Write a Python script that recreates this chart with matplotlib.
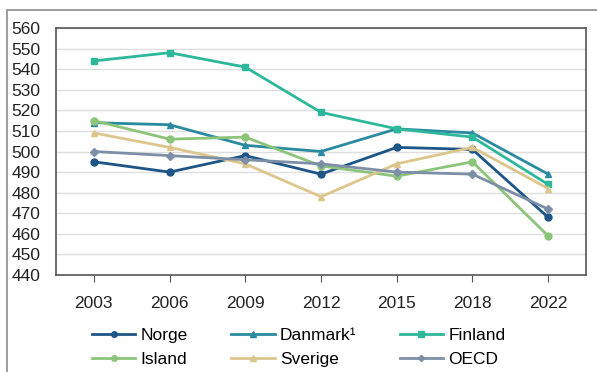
import numpy as np
import matplotlib
matplotlib.use('Agg')
import matplotlib.pyplot as plt
from matplotlib.patches import Rectangle

years = ['2003', '2006', '2009', '2012', '2015', '2018', '2022']
norge = [495, 490, 498, 489, 502, 501, 468]
danmark = [514, 513, 503, 500, 511, 509, 489]
finland = [544, 548, 541, 519, 511, 507, 484]
island = [515, 506, 507, 493, 488, 495, 459]
sverige = [509, 502, 494, 478, 494, 502, 482]
oecd = [500, 498, 496, 494, 490, 489, 472]

plt.rcParams['font.family'] = ['Liberation Sans', 'DejaVu Sans']

fig = plt.figure(figsize=(5.97, 3.72), dpi=100)
ax = fig.add_axes([56/597, 1-275/372, (586-56)/597, (275-28)/372])

# outer frame
fig.patches.append(Rectangle((7/597, -0.1), 1.0, 1-10/372+0.1, transform=fig.transFigure,
                             fill=False, edgecolor='#8c8c8c', linewidth=1.2))

x = np.arange(len(years))
series = [
    ('Norge', norge, '#1d5587', 'o'),
    ('Danmark\u00b9', danmark, '#2a8aa0', '^'),
    ('Finland', finland, '#2db79b', 's'),
    ('Island', island, '#8cc47a', 'o'),
    ('Sverige', sverige, '#dcc68c', '^'),
    ('OECD', oecd, '#7d8fa6', 'D'),
]
for name, vals, col, m in series:
    ax.plot(x, vals, color=col, marker=m, markersize=5 if m != 'D' else 4,
            linewidth=2, label=name)

ax.set_ylim(440, 560)
ax.set_yticks(np.arange(440, 561, 10))
ax.set_xlim(-0.5, len(years) - 0.5)
ax.set_xticks(x)
ax.set_xticklabels(years)
ax.grid(axis='y', color='#dedede', linewidth=1)
ax.set_axisbelow(True)
for s in ax.spines.values():
    s.set_color('#555555')
    s.set_linewidth(1.2)
ax.tick_params(axis='y', length=0, labelsize=12.5, pad=11, colors='#222222')
ax.tick_params(axis='x', length=5, labelsize=12.5, pad=10, color='#555555', colors='#222222')

h, l = ax.get_legend_handles_labels()
order = [0, 3, 1, 4, 2, 5]
ax.legend([h[i] for i in order], [l[i] for i in order],
          loc='upper center', bbox_to_anchor=(0.458, -0.15), ncol=3, frameon=False,
          fontsize=12.5, handlelength=2.5, columnspacing=2.5, handletextpad=0.3,
          labelspacing=0.5, markerscale=0.8)

fig.savefig('out.png', dpi=100)
